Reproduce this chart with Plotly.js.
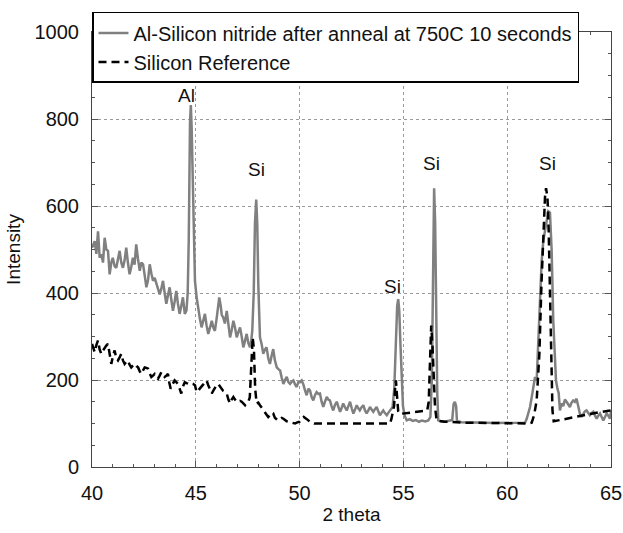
<!DOCTYPE html>
<html>
<head>
<meta charset="utf-8">
<script src="https://cdn.plot.ly/plotly-3.0.1.min.js"></script>
<style>html,body{margin:0;padding:0;background:#fff;}#chart{width:623px;height:533px;}</style>
</head>
<body>
<div id="chart"></div>
<script>
// Al-Silicon nitride after anneal at 750C 10 seconds (grey solid)
const alX = [40.0,40.13,40.21,40.29,40.37,40.45,40.53,40.61,40.69,40.77,40.85,40.93,41.0,41.09,41.17,41.25,41.33,41.41,41.49,41.57,41.65,41.73,41.81,41.89,41.97,42.05,42.13,42.21,42.3,42.38,42.46,42.54,42.62,42.7,42.78,42.86,42.94,43.02,43.1,43.18,43.26,43.34,43.42,43.5,43.58,43.66,43.74,43.82,43.9,43.98,44.06,44.14,44.22,44.3,44.38,44.47,44.55,44.61,44.66,44.72,44.76,44.8,44.85,44.9,44.96,45.04,45.12,45.2,45.28,45.36,45.44,45.52,45.6,45.68,45.77,45.85,45.92,46.0,46.06,46.13,46.2,46.25,46.32,46.4,46.49,46.57,46.65,46.73,46.81,46.89,46.97,47.05,47.13,47.21,47.29,47.37,47.45,47.53,47.61,47.67,47.72,47.79,47.85,47.91,47.96,48.01,48.05,48.09,48.17,48.25,48.33,48.41,48.49,48.57,48.65,48.73,48.81,48.9,48.98,49.06,49.14,49.22,49.3,49.38,49.46,49.54,49.62,49.7,49.78,49.86,49.94,50.02,50.1,50.18,50.26,50.34,50.42,50.5,50.58,50.66,50.74,50.82,50.9,50.98,51.06,51.14,51.22,51.31,51.38,51.46,51.54,51.62,51.7,51.79,51.87,51.95,52.02,52.1,52.18,52.27,52.35,52.43,52.51,52.59,52.67,52.75,52.83,52.9,52.98,53.07,53.15,53.23,53.31,53.39,53.47,53.55,53.63,53.71,53.79,53.87,53.95,54.03,54.11,54.2,54.28,54.35,54.42,54.48,54.56,54.64,54.7,54.75,54.8,54.86,54.92,54.98,55.06,55.16,55.3,55.45,55.6,55.75,55.9,56.05,56.2,56.3,56.37,56.43,56.48,56.53,56.58,56.63,56.68,56.8,57.0,57.2,57.35,57.42,57.48,57.54,57.58,57.8,58.2,58.6,59.0,59.4,59.8,60.2,60.6,60.86,60.94,61.02,61.1,61.18,61.26,61.34,61.42,61.5,61.58,61.66,61.74,61.82,61.9,61.98,62.06,62.14,62.22,62.3,62.35,62.42,62.48,62.54,62.62,62.7,62.78,62.86,62.94,63.02,63.1,63.18,63.26,63.34,63.42,63.5,63.58,63.66,63.74,63.82,63.9,63.98,64.06,64.15,64.23,64.31,64.39,64.47,64.55,64.63,64.71,64.79,64.87,64.95,65.0];
const alY = [504,519,490,542,481,489,470,527,500,497,443,470,481,462,458,480,497,470,458,475,504,470,443,460,481,465,512,480,451,470,466,440,413,430,466,445,428,435,420,410,397,410,428,400,375,395,413,385,359,380,405,375,352,370,390,352,360,400,520,790,832,780,650,500,428,390,359,340,321,340,352,325,306,320,336,320,313,340,370,390,370,350,344,330,359,320,298,315,336,320,298,310,321,300,275,290,306,285,275,290,313,400,560,615,560,420,330,298,283,260,270,275,250,237,255,271,245,229,225,222,205,191,200,207,195,191,196,199,190,184,195,195,199,190,176,165,180,176,161,153,165,172,168,169,150,138,150,161,155,153,140,130,142,150,138,127,135,146,138,130,140,150,135,123,132,142,135,130,137,142,130,123,130,138,132,127,133,138,128,119,125,130,124,119,125,130,134,138,180,300,370,386,360,280,199,140,118,107,110,106,108,104,107,105,107,115,200,500,641,560,330,170,107,105,104,106,108,145,150,140,106,103,103,102,102,101,101,101,101,102,111,125,138,160,184,207,199,300,400,474,520,542,570,588,585,500,335,230,199,180,170,130,146,140,155,150,145,138,148,153,150,157,140,123,115,122,128,130,125,119,124,127,118,111,118,123,115,107,115,123,118,111,128];

// Silicon Reference (black dashed)
const siX = [40.0,40.07,40.13,40.21,40.29,40.37,40.45,40.53,40.61,40.69,40.77,40.85,40.93,41.01,41.09,41.17,41.25,41.33,41.41,41.49,41.57,41.65,41.73,41.81,41.89,41.97,42.06,42.14,42.22,42.3,42.38,42.46,42.54,42.62,42.7,42.78,42.86,42.94,43.02,43.1,43.18,43.26,43.34,43.42,43.5,43.58,43.66,43.72,43.79,43.88,43.98,44.06,44.14,44.22,44.3,44.38,44.47,44.55,44.62,44.7,44.79,44.87,44.96,45.04,45.12,45.2,45.28,45.36,45.44,45.52,45.6,45.68,45.77,45.85,45.92,46.0,46.08,46.16,46.24,46.32,46.41,46.49,46.57,46.65,46.73,46.81,46.89,46.97,47.05,47.13,47.21,47.29,47.37,47.45,47.53,47.6,47.68,47.74,47.8,47.86,47.93,48.01,48.09,48.17,48.25,48.33,48.41,48.49,48.57,48.65,48.73,48.81,48.89,48.97,49.05,49.14,49.22,49.3,49.38,49.46,49.54,49.62,49.7,49.78,49.86,49.94,50.0,50.1,50.2,50.35,50.5,50.7,51.5,52.5,53.5,54.35,54.42,54.48,54.55,54.6,54.64,54.69,54.75,54.82,55.2,55.6,56.0,56.15,56.22,56.28,56.34,56.4,56.46,56.52,56.6,57.0,58.0,59.0,60.0,61.0,61.18,61.3,61.42,61.55,61.65,61.75,61.82,61.87,61.94,62.0,62.06,62.12,62.18,62.24,63.0,64.0,64.95,65.0];
const siY = [283,270,264,280,291,270,260,268,275,279,283,255,237,255,268,250,245,252,260,245,237,242,245,235,229,233,237,232,229,220,214,222,229,228,226,215,207,210,214,208,203,210,218,212,207,210,214,195,180,190,199,195,191,180,169,185,195,193,191,190,192,191,188,172,176,180,184,190,195,199,188,178,169,176,183,188,191,185,180,175,172,169,155,146,155,161,155,150,150,152,150,146,142,148,150,160,240,298,270,180,146,148,142,136,130,125,120,115,119,125,123,113,110,107,110,113,111,107,105,104,103,102,101,100,102,104,104,110,115,110,104,100,100,100,100,100,110,127,140,180,199,165,128,122,124,126,129,131,150,240,325,280,200,140,107,104,102,101,100,100,102,120,153,260,420,560,620,641,620,540,420,250,130,105,113,122,130,131];

const seriesNames = ['Al-Silicon nitride after anneal at 750C 10 seconds', 'Silicon Reference'];
const peakLabels = ['Al', 'Si', 'Si', 'Si', 'Si'];
const peakLabelX = [44.55, 47.9, 54.47, 56.33, 61.94];
const peakLabelY = [854, 684, 416, 697, 697];

const xTickVals = [40, 45, 50, 55, 60, 65];
const yTickVals = [0, 200, 400, 600, 800, 1000];

const FONT = 'Liberation Sans, Arial, sans-serif';
const FS = 20;

const traces = [
  {x: alX, y: alY, name: seriesNames[0], type: 'scatter', mode: 'lines',
   line: {color: '#808080', width: 2.5}},
  {x: siX, y: siY, name: seriesNames[1], type: 'scatter', mode: 'lines',
   line: {color: '#000000', width: 2.5, dash: '8px,5px'}}
];

const annotations = peakLabels.map((t, i) => ({
  x: peakLabelX[i], y: peakLabelY[i], xref: 'x', yref: 'y', text: t,
  showarrow: false, font: {family: FONT, size: 19, color: '#111'}
}));

const axisCommon = {
  showline: true, linecolor: '#444', linewidth: 1, mirror: 'ticks',
  ticks: 'inside', ticklen: 6, tickcolor: '#555', tickwidth: 1,
  showgrid: true, gridcolor: '#9a9a9a', griddash: 'dot', gridwidth: 1,
  zeroline: false, tickfont: {family: FONT, size: FS, color: '#111'}
};

const layout = {
  width: 623, height: 533,
  margin: {l: 92, r: 12, t: 30, b: 66},
  paper_bgcolor: '#fff', plot_bgcolor: '#fff',
  font: {family: FONT, size: FS, color: '#111'},
  showlegend: true,
  legend: {x: 0, xanchor: 'left', y: 1.046, yanchor: 'top',
           bgcolor: '#fff', bordercolor: '#000', borderwidth: 1.5,
           font: {family: FONT, size: FS, color: '#111'}, tracegroupgap: 0},
  xaxis: Object.assign({}, axisCommon, {
    range: [40, 65], tickvals: xTickVals, ticktext: xTickVals.map(String),
    ticklabelstandoff: 8,
    minor: {dtick: 1, ticks: 'inside', ticklen: 3, tickcolor: '#555', showgrid: false},
    title: {text: '2 theta', font: {family: FONT, size: 19, color: '#111'}, standoff: 4}
  }),
  yaxis: Object.assign({}, axisCommon, {
    range: [0, 1000], tickvals: yTickVals, ticktext: yTickVals.map(String),
    ticklabelstandoff: 8,
    minor: {dtick: 50, ticks: 'inside', ticklen: 3, tickcolor: '#555', showgrid: false},
    title: {text: 'Intensity', font: {family: FONT, size: 19, color: '#111'}, standoff: 8}
  }),
  annotations: annotations
};

Plotly.newPlot('chart', traces, layout, {displayModeBar: false, staticPlot: true});
</script>
</body>
</html>
